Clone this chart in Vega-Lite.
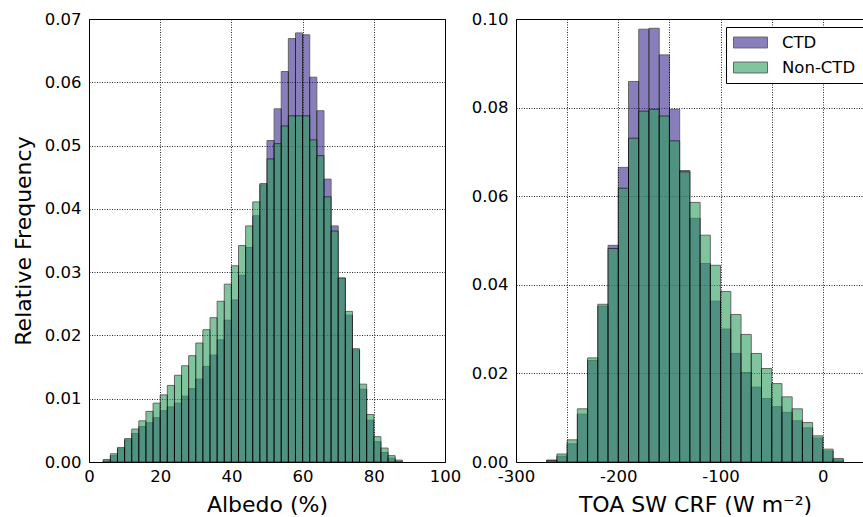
{
  "$schema": "https://vega.github.io/schema/vega-lite/v6.json",
  "padding": {"left": 11, "top": 10, "right": 0, "bottom": 0},
  "background": "white",
  "config": {
    "font": "DejaVu Sans",
    "view": {"stroke": "black", "strokeWidth": 1},
    "axis": {
      "labelFont": "DejaVu Sans", "labelFontSize": 16.5, "labelColor": "black",
      "titleFont": "DejaVu Sans", "titleFontSize": 22, "titleFontWeight": "normal", "titleColor": "black",
      "grid": true, "gridColor": "black", "gridDash": [1, 1.5], "gridWidth": 1, "gridOpacity": 0.85,
      "domain": false, "ticks": false, "labelPadding": 8, "labelFlush": false, "zindex": 1
    },
    "axisX": {"labelPadding": 6, "titlePadding": 10},
    "legend": {
      "labelFont": "DejaVu Sans", "labelFontSize": 16.5, "labelColor": "black"
    }
  },
  "datasets": {
    "albedo": [
      {"bin_start": 4, "bin_end": 6, "group": "CTD", "freq": 0.0002},
      {"bin_start": 6, "bin_end": 8, "group": "CTD", "freq": 0.0010},
      {"bin_start": 8, "bin_end": 10, "group": "CTD", "freq": 0.0021},
      {"bin_start": 10, "bin_end": 12, "group": "CTD", "freq": 0.0035},
      {"bin_start": 12, "bin_end": 14, "group": "CTD", "freq": 0.0045},
      {"bin_start": 14, "bin_end": 16, "group": "CTD", "freq": 0.0056},
      {"bin_start": 16, "bin_end": 18, "group": "CTD", "freq": 0.0062},
      {"bin_start": 18, "bin_end": 20, "group": "CTD", "freq": 0.0070},
      {"bin_start": 20, "bin_end": 22, "group": "CTD", "freq": 0.0081},
      {"bin_start": 22, "bin_end": 24, "group": "CTD", "freq": 0.0087},
      {"bin_start": 24, "bin_end": 26, "group": "CTD", "freq": 0.0093},
      {"bin_start": 26, "bin_end": 28, "group": "CTD", "freq": 0.0104},
      {"bin_start": 28, "bin_end": 30, "group": "CTD", "freq": 0.0116},
      {"bin_start": 30, "bin_end": 32, "group": "CTD", "freq": 0.0131},
      {"bin_start": 32, "bin_end": 34, "group": "CTD", "freq": 0.0151},
      {"bin_start": 34, "bin_end": 36, "group": "CTD", "freq": 0.0169},
      {"bin_start": 36, "bin_end": 38, "group": "CTD", "freq": 0.0193},
      {"bin_start": 38, "bin_end": 40, "group": "CTD", "freq": 0.0224},
      {"bin_start": 40, "bin_end": 42, "group": "CTD", "freq": 0.0256},
      {"bin_start": 42, "bin_end": 44, "group": "CTD", "freq": 0.0295},
      {"bin_start": 44, "bin_end": 46, "group": "CTD", "freq": 0.0339},
      {"bin_start": 46, "bin_end": 48, "group": "CTD", "freq": 0.0389},
      {"bin_start": 48, "bin_end": 50, "group": "CTD", "freq": 0.0438},
      {"bin_start": 50, "bin_end": 52, "group": "CTD", "freq": 0.0508},
      {"bin_start": 52, "bin_end": 54, "group": "CTD", "freq": 0.0558},
      {"bin_start": 54, "bin_end": 56, "group": "CTD", "freq": 0.0617},
      {"bin_start": 56, "bin_end": 58, "group": "CTD", "freq": 0.0669},
      {"bin_start": 58, "bin_end": 60, "group": "CTD", "freq": 0.0678},
      {"bin_start": 60, "bin_end": 62, "group": "CTD", "freq": 0.0675},
      {"bin_start": 62, "bin_end": 64, "group": "CTD", "freq": 0.0608},
      {"bin_start": 64, "bin_end": 66, "group": "CTD", "freq": 0.0555},
      {"bin_start": 66, "bin_end": 68, "group": "CTD", "freq": 0.0447},
      {"bin_start": 68, "bin_end": 70, "group": "CTD", "freq": 0.0373},
      {"bin_start": 70, "bin_end": 72, "group": "CTD", "freq": 0.0290},
      {"bin_start": 72, "bin_end": 74, "group": "CTD", "freq": 0.0232},
      {"bin_start": 74, "bin_end": 76, "group": "CTD", "freq": 0.0177},
      {"bin_start": 76, "bin_end": 78, "group": "CTD", "freq": 0.0115},
      {"bin_start": 78, "bin_end": 80, "group": "CTD", "freq": 0.0066},
      {"bin_start": 80, "bin_end": 82, "group": "CTD", "freq": 0.0032},
      {"bin_start": 82, "bin_end": 84, "group": "CTD", "freq": 0.0015},
      {"bin_start": 84, "bin_end": 86, "group": "CTD", "freq": 0.0006},
      {"bin_start": 86, "bin_end": 88, "group": "CTD", "freq": 0.0001},
      {"bin_start": 4, "bin_end": 6, "group": "Non-CTD", "freq": 0.0004},
      {"bin_start": 6, "bin_end": 8, "group": "Non-CTD", "freq": 0.0013},
      {"bin_start": 8, "bin_end": 10, "group": "Non-CTD", "freq": 0.0023},
      {"bin_start": 10, "bin_end": 12, "group": "Non-CTD", "freq": 0.0037},
      {"bin_start": 12, "bin_end": 14, "group": "Non-CTD", "freq": 0.0052},
      {"bin_start": 14, "bin_end": 16, "group": "Non-CTD", "freq": 0.0065},
      {"bin_start": 16, "bin_end": 18, "group": "Non-CTD", "freq": 0.0080},
      {"bin_start": 18, "bin_end": 20, "group": "Non-CTD", "freq": 0.0093},
      {"bin_start": 20, "bin_end": 22, "group": "Non-CTD", "freq": 0.0106},
      {"bin_start": 22, "bin_end": 24, "group": "Non-CTD", "freq": 0.0121},
      {"bin_start": 24, "bin_end": 26, "group": "Non-CTD", "freq": 0.0137},
      {"bin_start": 26, "bin_end": 28, "group": "Non-CTD", "freq": 0.0152},
      {"bin_start": 28, "bin_end": 30, "group": "Non-CTD", "freq": 0.0168},
      {"bin_start": 30, "bin_end": 32, "group": "Non-CTD", "freq": 0.0188},
      {"bin_start": 32, "bin_end": 34, "group": "Non-CTD", "freq": 0.0209},
      {"bin_start": 34, "bin_end": 36, "group": "Non-CTD", "freq": 0.0228},
      {"bin_start": 36, "bin_end": 38, "group": "Non-CTD", "freq": 0.0254},
      {"bin_start": 38, "bin_end": 40, "group": "Non-CTD", "freq": 0.0281},
      {"bin_start": 40, "bin_end": 42, "group": "Non-CTD", "freq": 0.0310},
      {"bin_start": 42, "bin_end": 44, "group": "Non-CTD", "freq": 0.0342},
      {"bin_start": 44, "bin_end": 46, "group": "Non-CTD", "freq": 0.0373},
      {"bin_start": 46, "bin_end": 48, "group": "Non-CTD", "freq": 0.0411},
      {"bin_start": 48, "bin_end": 50, "group": "Non-CTD", "freq": 0.0440},
      {"bin_start": 50, "bin_end": 52, "group": "Non-CTD", "freq": 0.0479},
      {"bin_start": 52, "bin_end": 54, "group": "Non-CTD", "freq": 0.0503},
      {"bin_start": 54, "bin_end": 56, "group": "Non-CTD", "freq": 0.0531},
      {"bin_start": 56, "bin_end": 58, "group": "Non-CTD", "freq": 0.0547},
      {"bin_start": 58, "bin_end": 60, "group": "Non-CTD", "freq": 0.0547},
      {"bin_start": 60, "bin_end": 62, "group": "Non-CTD", "freq": 0.0547},
      {"bin_start": 62, "bin_end": 64, "group": "Non-CTD", "freq": 0.0509},
      {"bin_start": 64, "bin_end": 66, "group": "Non-CTD", "freq": 0.0484},
      {"bin_start": 66, "bin_end": 68, "group": "Non-CTD", "freq": 0.0419},
      {"bin_start": 68, "bin_end": 70, "group": "Non-CTD", "freq": 0.0365},
      {"bin_start": 70, "bin_end": 72, "group": "Non-CTD", "freq": 0.0291},
      {"bin_start": 72, "bin_end": 74, "group": "Non-CTD", "freq": 0.0238},
      {"bin_start": 74, "bin_end": 76, "group": "Non-CTD", "freq": 0.0179},
      {"bin_start": 76, "bin_end": 78, "group": "Non-CTD", "freq": 0.0123},
      {"bin_start": 78, "bin_end": 80, "group": "Non-CTD", "freq": 0.0075},
      {"bin_start": 80, "bin_end": 82, "group": "Non-CTD", "freq": 0.0040},
      {"bin_start": 82, "bin_end": 84, "group": "Non-CTD", "freq": 0.0022},
      {"bin_start": 84, "bin_end": 86, "group": "Non-CTD", "freq": 0.0010},
      {"bin_start": 86, "bin_end": 88, "group": "Non-CTD", "freq": 0.0003}
    ],
    "crf": [
      {"bin_start": -270, "bin_end": -260, "group": "CTD", "freq": 0.0004},
      {"bin_start": -260, "bin_end": -250, "group": "CTD", "freq": 0.0013},
      {"bin_start": -250, "bin_end": -240, "group": "CTD", "freq": 0.0041},
      {"bin_start": -240, "bin_end": -230, "group": "CTD", "freq": 0.0108},
      {"bin_start": -230, "bin_end": -220, "group": "CTD", "freq": 0.0229},
      {"bin_start": -220, "bin_end": -210, "group": "CTD", "freq": 0.0352},
      {"bin_start": -210, "bin_end": -200, "group": "CTD", "freq": 0.0489},
      {"bin_start": -200, "bin_end": -190, "group": "CTD", "freq": 0.0665},
      {"bin_start": -190, "bin_end": -180, "group": "CTD", "freq": 0.0859},
      {"bin_start": -180, "bin_end": -170, "group": "CTD", "freq": 0.0977},
      {"bin_start": -170, "bin_end": -160, "group": "CTD", "freq": 0.0979},
      {"bin_start": -160, "bin_end": -150, "group": "CTD", "freq": 0.0919},
      {"bin_start": -150, "bin_end": -140, "group": "CTD", "freq": 0.0796},
      {"bin_start": -140, "bin_end": -130, "group": "CTD", "freq": 0.0658},
      {"bin_start": -130, "bin_end": -120, "group": "CTD", "freq": 0.0550},
      {"bin_start": -120, "bin_end": -110, "group": "CTD", "freq": 0.0448},
      {"bin_start": -110, "bin_end": -100, "group": "CTD", "freq": 0.0363},
      {"bin_start": -100, "bin_end": -90, "group": "CTD", "freq": 0.0300},
      {"bin_start": -90, "bin_end": -80, "group": "CTD", "freq": 0.0245},
      {"bin_start": -80, "bin_end": -70, "group": "CTD", "freq": 0.0202},
      {"bin_start": -70, "bin_end": -60, "group": "CTD", "freq": 0.0169},
      {"bin_start": -60, "bin_end": -50, "group": "CTD", "freq": 0.0143},
      {"bin_start": -50, "bin_end": -40, "group": "CTD", "freq": 0.0125},
      {"bin_start": -40, "bin_end": -30, "group": "CTD", "freq": 0.0112},
      {"bin_start": -30, "bin_end": -20, "group": "CTD", "freq": 0.0093},
      {"bin_start": -20, "bin_end": -10, "group": "CTD", "freq": 0.0077},
      {"bin_start": -10, "bin_end": 0, "group": "CTD", "freq": 0.0054},
      {"bin_start": 0, "bin_end": 10, "group": "CTD", "freq": 0.0025},
      {"bin_start": 10, "bin_end": 20, "group": "CTD", "freq": 0.0005},
      {"bin_start": -270, "bin_end": -260, "group": "Non-CTD", "freq": 0.0004},
      {"bin_start": -260, "bin_end": -250, "group": "Non-CTD", "freq": 0.0018},
      {"bin_start": -250, "bin_end": -240, "group": "Non-CTD", "freq": 0.0050},
      {"bin_start": -240, "bin_end": -230, "group": "Non-CTD", "freq": 0.0120},
      {"bin_start": -230, "bin_end": -220, "group": "Non-CTD", "freq": 0.0235},
      {"bin_start": -220, "bin_end": -210, "group": "Non-CTD", "freq": 0.0356},
      {"bin_start": -210, "bin_end": -200, "group": "Non-CTD", "freq": 0.0482},
      {"bin_start": -200, "bin_end": -190, "group": "Non-CTD", "freq": 0.0618},
      {"bin_start": -190, "bin_end": -180, "group": "Non-CTD", "freq": 0.0731},
      {"bin_start": -180, "bin_end": -170, "group": "Non-CTD", "freq": 0.0792},
      {"bin_start": -170, "bin_end": -160, "group": "Non-CTD", "freq": 0.0796},
      {"bin_start": -160, "bin_end": -150, "group": "Non-CTD", "freq": 0.0781},
      {"bin_start": -150, "bin_end": -140, "group": "Non-CTD", "freq": 0.0725},
      {"bin_start": -140, "bin_end": -130, "group": "Non-CTD", "freq": 0.0655},
      {"bin_start": -130, "bin_end": -120, "group": "Non-CTD", "freq": 0.0586},
      {"bin_start": -120, "bin_end": -110, "group": "Non-CTD", "freq": 0.0512},
      {"bin_start": -110, "bin_end": -100, "group": "Non-CTD", "freq": 0.0444},
      {"bin_start": -100, "bin_end": -90, "group": "Non-CTD", "freq": 0.0385},
      {"bin_start": -90, "bin_end": -80, "group": "Non-CTD", "freq": 0.0333},
      {"bin_start": -80, "bin_end": -70, "group": "Non-CTD", "freq": 0.0288},
      {"bin_start": -70, "bin_end": -60, "group": "Non-CTD", "freq": 0.0245},
      {"bin_start": -60, "bin_end": -50, "group": "Non-CTD", "freq": 0.0211},
      {"bin_start": -50, "bin_end": -40, "group": "Non-CTD", "freq": 0.0177},
      {"bin_start": -40, "bin_end": -30, "group": "Non-CTD", "freq": 0.0147},
      {"bin_start": -30, "bin_end": -20, "group": "Non-CTD", "freq": 0.0120},
      {"bin_start": -20, "bin_end": -10, "group": "Non-CTD", "freq": 0.0089},
      {"bin_start": -10, "bin_end": 0, "group": "Non-CTD", "freq": 0.0059},
      {"bin_start": 0, "bin_end": 10, "group": "Non-CTD", "freq": 0.0029},
      {"bin_start": 10, "bin_end": 20, "group": "Non-CTD", "freq": 0.0008}
    ]
  },
  "resolve": {"scale": {"color": "independent"}, "legend": {"color": "independent"}},
  "spacing": 8,
  "hconcat": [
    {
      "width": 356,
      "height": 443,
      "data": {"name": "albedo"},
      "mark": {"type": "bar", "opacity": 0.6, "stroke": "black", "strokeWidth": 1},
      "encoding": {
        "x": {"field": "bin_start", "type": "quantitative",
              "scale": {"domain": [0, 100], "nice": false, "zero": false},
              "axis": {"title": "Albedo (%)", "values": [0, 20, 40, 60, 80, 100]}},
        "x2": {"field": "bin_end"},
        "y": {"field": "freq", "type": "quantitative",
              "scale": {"domain": [0, 0.07], "nice": false},
              "axis": {"title": "Relative Frequency", "values": [0, 0.01, 0.02, 0.03, 0.04, 0.05, 0.06, 0.07], "format": ".2f", "titlePadding": 9}},
        "y2": {"datum": 0},
        "color": {"field": "group", "type": "nominal",
                  "scale": {"domain": ["CTD", "Non-CTD"], "range": ["#3c2a91", "#2d9e5d"]},
                  "legend": null}
      }
    },
    {
      "width": 358,
      "height": 443,
      "data": {"name": "crf"},
      "mark": {"type": "bar", "opacity": 0.6, "stroke": "black", "strokeWidth": 1},
      "encoding": {
        "x": {"field": "bin_start", "type": "quantitative",
              "scale": {"domain": [-300, 50], "nice": false, "zero": false},
              "axis": {"title": "TOA SW CRF (W m⁻²)", "values": [-300, -250, -200, -150, -100, -50, 0, 50],
                       "labelExpr": "datum.value % 100 === 0 ? toString(datum.value) : ''"}},
        "x2": {"field": "bin_end"},
        "y": {"field": "freq", "type": "quantitative",
              "scale": {"domain": [0, 0.10], "nice": false},
              "axis": {"title": null, "values": [0, 0.02, 0.04, 0.06, 0.08, 0.1], "format": ".2f"}},
        "y2": {"datum": 0},
        "color": {"field": "group", "type": "nominal",
                  "scale": {"domain": ["CTD", "Non-CTD"], "range": ["#3c2a91", "#2d9e5d"]},
                  "legend": {"title": null, "orient": "none", "legendX": 210, "legendY": 8, "padding": 7,
                             "strokeColor": "black", "fillColor": "white", "cornerRadius": 0,
                             "symbolType": "M-1,-0.32H1V0.32H-1Z", "symbolSize": 1156,
                             "symbolOpacity": 0.6, "symbolStrokeColor": "black", "symbolStrokeWidth": 1,
                             "labelOffset": 14, "rowPadding": 8, "clipHeight": 17}}
      }
    }
  ]
}
